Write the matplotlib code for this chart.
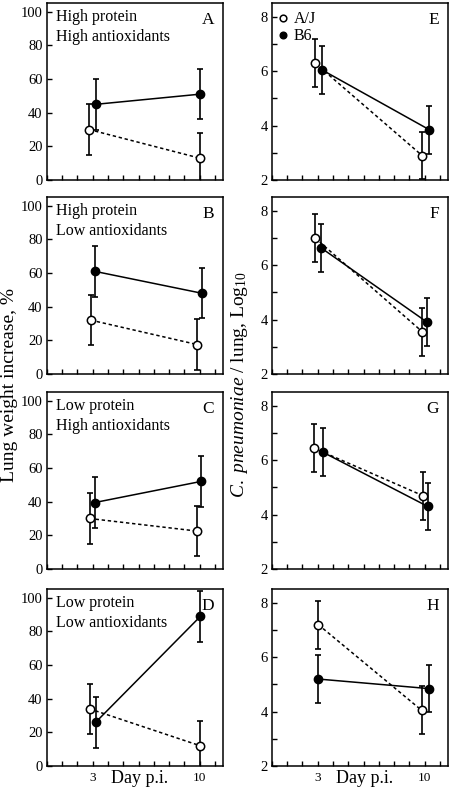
import numpy as np
import matplotlib
matplotlib.use("Agg")
import matplotlib.pyplot as plt
from matplotlib.ticker import MultipleLocator, FixedLocator

plt.rcParams['font.family'] = ['Liberation Serif', 'DejaVu Serif']
plt.rcParams['mathtext.fontset'] = 'custom'
plt.rcParams['mathtext.rm'] = 'Liberation Serif'
plt.rcParams['mathtext.it'] = 'Liberation Serif:italic'

# data
days = [3, 10]
diets = ["High protein\nHigh antioxidants", "High protein\nLow antioxidants",
         "Low protein\nHigh antioxidants", "Low protein\nLow antioxidants"]
letters_lung = ["A", "B", "C", "D"]
letters_cp = ["E", "F", "G", "H"]

aj_lung = [[30, 13], [32, 17.5], [30, 22.5], [34, 12]]
b6_lung = [[45, 51], [61, 48], [39.5, 52], [26, 89]]
lung_err = 15

aj_cp = [[6.3, 2.9], [7.0, 3.55], [6.45, 4.7], [7.2, 4.05]]
b6_cp = [[6.05, 3.85], [6.65, 3.9], [6.3, 4.3], [5.2, 4.85]]
cp_err = 0.88

# small horizontal shifts so the two strains don't overlap
shift_lung = [([-0.23, 0.0], [0.23, 0.0]), ([-0.12, -0.17], [0.14, 0.13]),
              ([-0.2, -0.15], [0.15, 0.07]), ([-0.2, 0.05], [0.2, 0.05])]
shift_cp = [([-0.16, -0.17], [0.29, 0.3]), ([-0.16, -0.15], [0.2, 0.17]),
            ([-0.26, -0.13], [0.33, 0.2]), ([0.05, -0.2], [0.05, 0.25])]

fig = plt.figure(figsize=(4.5, 7.93), dpi=100)

bottoms = [0.773, 0.5284, 0.2825, 0.034]
h = 0.2228
w = 0.391


def draw(ax, aj, b6, err, sh, ylim):
    xa = np.array(days) + np.array(sh[0])
    xb = np.array(days) + np.array(sh[1])
    ax.plot(xa, aj, color='black', lw=1.1, ls=(0, (2.2, 1.8)), zorder=2)
    ax.plot(xb, b6, color='black', lw=1.1, zorder=2)
    ax.errorbar(xa, aj, yerr=err, fmt='none', ecolor='black', elinewidth=1.2,
                capsize=2.5, capthick=1.2, zorder=3)
    ax.errorbar(xb, b6, yerr=err, fmt='none', ecolor='black', elinewidth=1.2,
                capsize=2.5, capthick=1.2, zorder=3)
    ax.plot(xa, aj, 'o', mfc='white', mec='black', mew=1.1, ms=6, zorder=4,
            label='A/J', clip_on=False)
    ax.plot(xb, b6, 'o', mfc='black', mec='black', ms=6, zorder=4,
            label='B6', clip_on=False)
    ax.set_xlim(0, 11.5)
    ax.set_ylim(*ylim)
    ax.xaxis.set_major_locator(FixedLocator([3, 10]))
    ax.xaxis.set_minor_locator(MultipleLocator(1))
    ax.tick_params(which='both', direction='in', length=3.5, width=1,
                   top=False, right=False)
    ax.tick_params(axis='y', labelsize=10.5, pad=3)
    ax.tick_params(axis='x', labelsize=9.5, pad=4)
    for s in ax.spines.values():
        s.set_linewidth(1.1)


for i in range(4):
    axl = fig.add_axes([0.1038, bottoms[i], w, h])
    draw(axl, aj_lung[i], b6_lung[i], lung_err, shift_lung[i], (0, 105))
    axl.yaxis.set_major_locator(MultipleLocator(20))
    axl.text(0.05, 0.97, diets[i], transform=axl.transAxes, va='top',
             ha='left', fontsize=11.5, linespacing=1.35)
    axl.text(0.95, 0.95, letters_lung[i], transform=axl.transAxes, va='top',
             ha='right', fontsize=12.5)

    axr = fig.add_axes([0.6038, bottoms[i], w, h])
    draw(axr, aj_cp[i], b6_cp[i], cp_err, shift_cp[i], (2, 8.5))
    axr.yaxis.set_major_locator(MultipleLocator(2))
    axr.yaxis.set_minor_locator(MultipleLocator(1))
    axr.text(0.95, 0.95, letters_cp[i], transform=axr.transAxes, va='top',
             ha='right', fontsize=12.5)
    if i == 0:
        axr.legend(loc='upper left', frameon=False, handlelength=0.4,
                   handletextpad=0.5, borderaxespad=0.3, borderpad=0.2,
                   labelspacing=0.05, fontsize=11.5, markerscale=0.8)

    if i < 3:
        axl.set_xticklabels([])
        axr.set_xticklabels([])
    else:
        for ax in (axl, axr):
            ax.set_xlabel("Day p.i.", fontsize=13)
            ax.xaxis.set_label_coords(0.53, -0.025)

fig.text(0.022, 0.515, "Lung weight increase, %", rotation=90,
         ha='center', va='center', fontsize=14)
fig.text(0.533, 0.515, r"$\it{C.\ pneumoniae}$ / lung, Log$_{10}$",
         rotation=90, ha='center', va='center', fontsize=14)

fig.savefig("out.png", dpi=100)
